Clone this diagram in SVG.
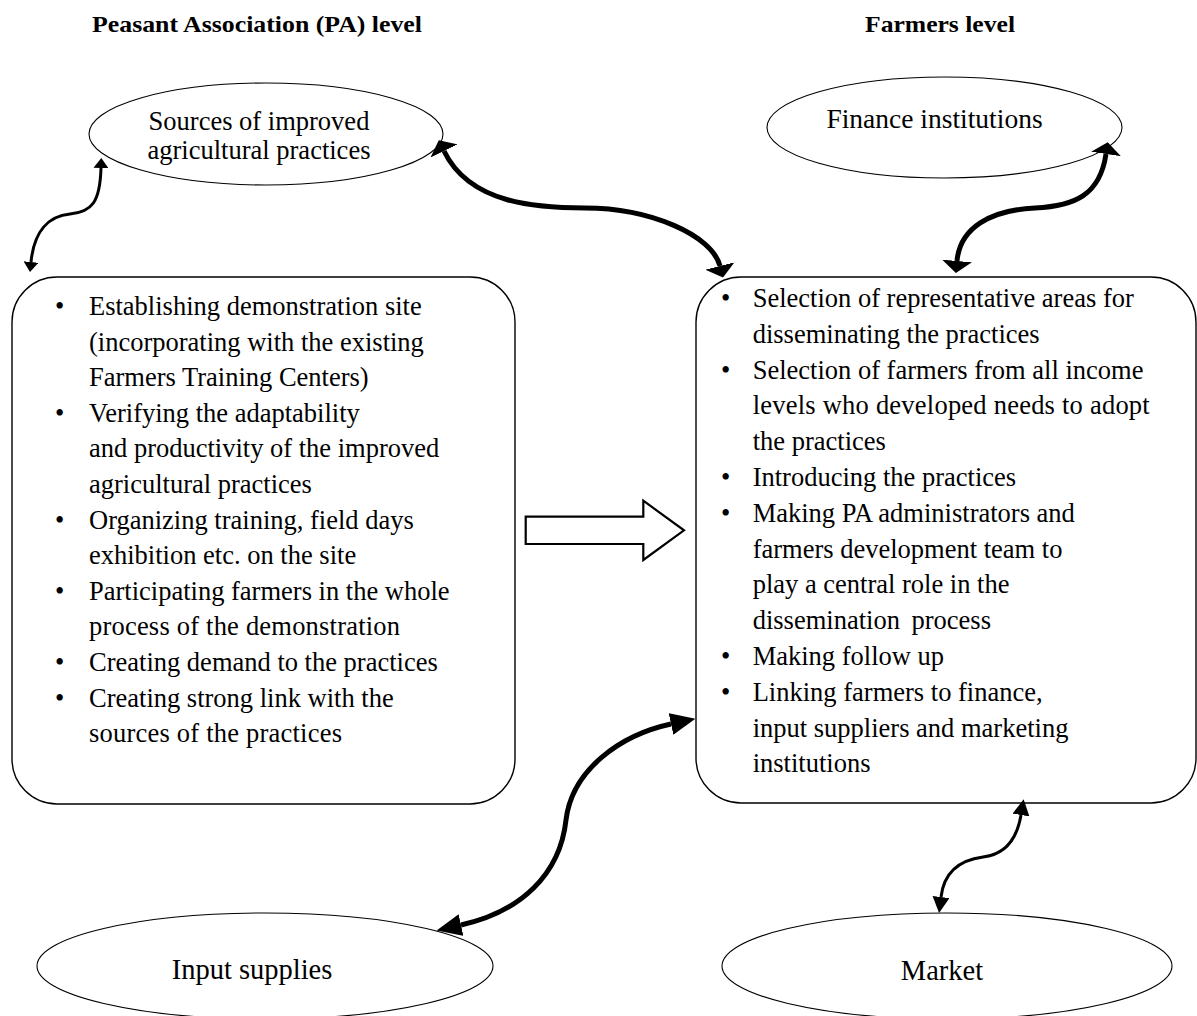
<svg xmlns="http://www.w3.org/2000/svg" width="1197" height="1016" viewBox="0 0 1197 1016">
<style>
  .title { font-family: "Liberation Serif", "Times New Roman", serif; font-weight: bold; font-size: 24px; fill: #000; }
  .txt { font-family: "Liberation Serif", "Times New Roman", serif; font-size: 26.5px; fill: #000; }
  .lbl { font-family: "Liberation Serif", "Times New Roman", serif; font-size: 26.5px; fill: #000; text-anchor: middle; }
  .lblBig { font-family: "Liberation Serif", "Times New Roman", serif; font-size: 28.5px; fill: #000; text-anchor: middle; }
  .ell { fill: #fff; stroke: #000; stroke-width: 1.1; }
  .box { fill: #fff; stroke: #000; stroke-width: 1.4; }
  .thick { fill: none; stroke: #000; stroke-width: 5; }
  .thin { fill: none; stroke: #000; stroke-width: 3; }
  .block { fill: #fff; stroke: #000; stroke-width: 2.2; stroke-linejoin: miter; }
</style>
<defs>
  <marker id="headFlat" markerUnits="userSpaceOnUse" markerWidth="12" markerHeight="30" viewBox="0 0 12 30" refX="0" refY="15" orient="auto-start-reverse">
    <path d="M0,0 L12,15 L0,30 z" fill="#000"/>
  </marker>
  <marker id="headLong" markerUnits="userSpaceOnUse" markerWidth="25" markerHeight="22" viewBox="0 0 25 22" refX="0" refY="11" orient="auto-start-reverse">
    <path d="M0,0 L25,11 L0,22 z" fill="#000"/>
  </marker>
  <marker id="headSmallFlat" markerUnits="userSpaceOnUse" markerWidth="10" markerHeight="15" viewBox="0 0 10 15" refX="0" refY="7.5" orient="auto-start-reverse">
    <path d="M0,0 L10,7.5 L0,15 z" fill="#000"/>
  </marker>
  <marker id="headSmall" markerUnits="userSpaceOnUse" markerWidth="16" markerHeight="17" viewBox="0 0 16 17" refX="0" refY="8.5" orient="auto-start-reverse">
    <path d="M0,0 L16,8.5 L0,17 z" fill="#000"/>
  </marker>
</defs>
<rect width="1197" height="1016" fill="#fff"/>

<g id="titles">
  <text class="title" x="92" y="32" textLength="330" lengthAdjust="spacingAndGlyphs">Peasant Association (PA) level</text>
  <text class="title" x="865" y="32" textLength="150" lengthAdjust="spacingAndGlyphs">Farmers level</text>
</g>

<g id="node-sources">
  <ellipse class="ell" cx="266" cy="134" rx="177" ry="51"/>
  <text class="lbl" x="259" y="130">Sources of improved</text>
  <text class="lbl" x="259" y="159">agricultural practices</text>
</g>

<g id="node-finance">
  <ellipse class="ell" cx="944.5" cy="127.5" rx="177.5" ry="50.5"/>
  <text class="lbl" x="934.5" y="128" style="font-size:27.5px">Finance institutions</text>
</g>

<g id="node-pa-box">
  <rect class="box" x="12" y="277" width="503" height="527" rx="45" ry="45"/>
  <g class="txt">
    <text x="55" y="315">•</text>
    <text x="89" y="315">Establishing demonstration site</text>
    <text x="89" y="350.6">(incorporating with the existing</text>
    <text x="89" y="386.2">Farmers Training Centers)</text>
    <text x="55" y="421.8">•</text>
    <text x="89" y="421.8">Verifying the adaptability</text>
    <text x="89" y="457.4">and productivity of the improved</text>
    <text x="89" y="493">agricultural practices</text>
    <text x="55" y="528.6">•</text>
    <text x="89" y="528.6">Organizing training, field days</text>
    <text x="89" y="564.2">exhibition etc. on the site</text>
    <text x="55" y="599.8">•</text>
    <text x="89" y="599.8">Participating farmers in the whole</text>
    <text x="89" y="635.4" textLength="311" lengthAdjust="spacing">process of the demonstration</text>
    <text x="55" y="671">•</text>
    <text x="89" y="671">Creating demand to the practices</text>
    <text x="55" y="706.6">•</text>
    <text x="89" y="706.6">Creating strong link with the</text>
    <text x="89" y="742.2" textLength="253" lengthAdjust="spacing">sources of the practices</text>
  </g>
</g>

<g id="node-farmers-box">
  <rect class="box" x="696" y="277" width="500" height="526" rx="45" ry="45"/>
  <g class="txt">
    <text x="721" y="307">•</text>
    <text x="752.7" y="307">Selection of representative areas for</text>
    <text x="752.7" y="342.8">disseminating the practices</text>
    <text x="721" y="378.6">•</text>
    <text x="752.7" y="378.6">Selection of farmers from all income</text>
    <text x="752.7" y="414.4" textLength="397" lengthAdjust="spacing">levels who developed needs to adopt</text>
    <text x="752.7" y="450.2">the practices</text>
    <text x="721" y="486">•</text>
    <text x="752.7" y="486">Introducing the practices</text>
    <text x="721" y="521.8">•</text>
    <text x="752.7" y="521.8">Making PA administrators and</text>
    <text x="752.7" y="557.6">farmers development team to</text>
    <text x="752.7" y="593.4">play a central role in the</text>
    <text x="752.7" y="629.2" word-spacing="5">dissemination process</text>
    <text x="721" y="665">•</text>
    <text x="752.7" y="665">Making follow up</text>
    <text x="721" y="700.8">•</text>
    <text x="752.7" y="700.8">Linking farmers to finance,</text>
    <text x="752.7" y="736.6">input suppliers and marketing</text>
    <text x="752.7" y="772.4">institutions</text>
  </g>
</g>

<g id="node-input">
  <ellipse class="ell" cx="265" cy="966" rx="228" ry="53"/>
  <text class="lblBig" x="252" y="979">Input supplies</text>
</g>

<g id="node-market">
  <ellipse class="ell" cx="947" cy="966" rx="225" ry="53"/>
  <text class="lblBig" x="942" y="980">Market</text>
</g>

<g id="connectors">
  <polygon class="block" points="525.7,516.7 643.3,516.7 643.3,500.7 684,530.3 643.3,560 643.3,544 525.7,544"/>
  <path class="thin" d="M101,168 C100,202 92,212 70,214 C48,216 34,232 31,262" marker-start="url(#headSmallFlat)" marker-end="url(#headSmallFlat)"/>
  <path class="thick" d="M444,151 C470,205 540,208 585,208 C650,208 712,235 720,266" marker-start="url(#headFlat)" marker-end="url(#headFlat)"/>
  <path class="thick" d="M1106,154 C1100,195 1075,206 1035,208 C990,210 960,228 957,261" marker-start="url(#headFlat)" marker-end="url(#headFlat)"/>
  <path class="thick" d="M671,724 C620,735 572,770 566,820 C560,875 520,912 461,925" marker-start="url(#headLong)" marker-end="url(#headLong)"/>
  <path class="thin" d="M1021,815 C1016,845 1000,855 983,857 C960,860 944,872 941,897" marker-start="url(#headSmall)" marker-end="url(#headSmall)"/>
</g>
</svg>
